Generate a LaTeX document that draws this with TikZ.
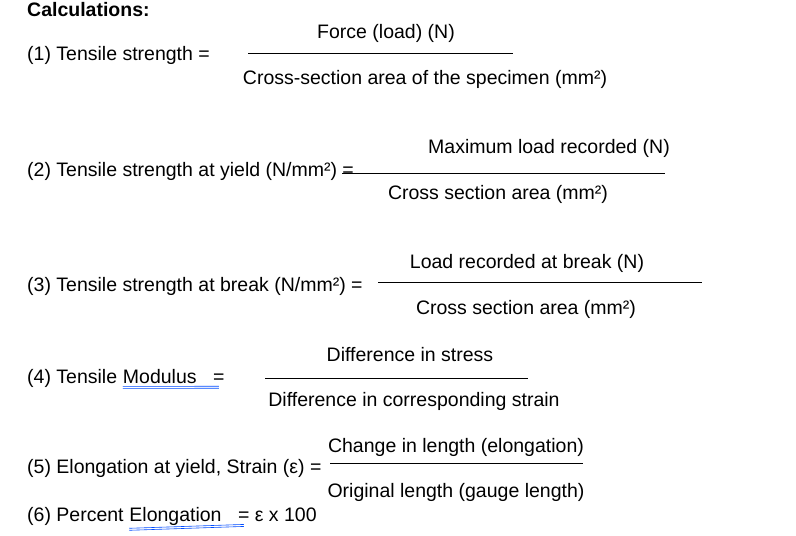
\documentclass[tikz,border=0pt]{standalone}
\usepackage{fontspec}
\setmainfont{Liberation Sans}
\begin{document}
\begin{tikzpicture}[x=1pt,y=-1pt,
  t/.style={anchor=west,inner sep=0pt,font=\fontsize{19.5}{23}\selectfont},
  tb/.style={anchor=base west,inner sep=0pt,font=\fontsize{19.5}{23}\selectfont},
  c/.style={anchor=center,inner sep=0pt,font=\fontsize{19.5}{23}\selectfont},
  fl/.style={line width=0.7pt},
  ul/.style={draw=blue!70!cyan,line width=0.6pt}]
\useasboundingbox[fill=white] (0,0) rectangle (796,536);
\node[t,font=\fontsize{19.5}{23}\selectfont\bfseries] (h) at (27,10) {Calculations:};
% (1)
\node[t] (l1) at (27,55) {(1) Tensile strength =};
\node[c] (n1) at (386,33) {Force (load) (N)};
\node[c] (d1) at (425,79) {Cross-section area of the specimen (mm²)};
\coordinate (a1) at (248,53); \coordinate (b1) at (513,53);
\draw[fl] (a1) -- (b1);
% (2)
\node[t] (l2) at (27,171) {(2) Tensile strength at yield (N/mm²) =};
\node[c] (n2) at (549,148) {Maximum load recorded (N)};
\node[c] (d2) at (498,194) {Cross section area (mm²)};
\coordinate (a2) at (342,173); \coordinate (b2) at (665,173);
\draw[fl] (a2) -- (b2);
% (3)
\node[t] (l3) at (27,286) {(3) Tensile strength at break (N/mm²) =};
\node[c] (n3) at (527,263) {Load recorded at break (N)};
\node[c] (d3) at (526,309) {Cross section area (mm²)};
\coordinate (a3) at (378,282); \coordinate (b3) at (702,282);
\draw[fl] (a3) -- (b3);
% (4)
\node[t] (l4) at (27,378) {(4) Tensile};
\node[tb] (m4) at ([xshift=5.4pt]l4.base east) {Modulus};
\node[tb] (e4) at ([xshift=16pt]m4.base east) {=};
\node[c] (n4) at (410,355) {Difference in stress};
\node[c] (d4) at (414,401) {Difference in corresponding strain};
\coordinate (a4) at (265,378); \coordinate (b4) at (528,378);
\draw[fl] (a4) -- (b4);
\draw[ul] ([yshift=-3pt]m4.south west) -- ([xshift=6pt,yshift=-3pt]e4.south west);
\draw[ul] ([yshift=-5pt]m4.south west) -- ([xshift=6pt,yshift=-5pt]e4.south west);
% (5)
\node[t] (l5) at (27,468) {(5) Elongation at yield, Strain (ε) =};
\node[c] (n5) at (456,447) {Change in length (elongation)};
\node[c] (d5) at (456,492) {Original length (gauge length)};
\coordinate (a5) at (330,463); \coordinate (b5) at (583,463);
\draw[fl] (a5) -- (b5);
% (6)
\node[t] (l6) at (27,516) {(6) Percent};
\node[tb] (m6) at ([xshift=5.4pt]l6.base east) {Elongation};
\node[tb] (e6) at ([xshift=16pt]m6.base east) {= ε x 100};
\draw[ul] ([yshift=-3pt]m6.south west) -- ([xshift=6pt,yshift=-3pt]e6.south west);
\draw[ul] ([yshift=-5pt]m6.south west) -- ([xshift=6pt,yshift=-5pt]e6.south west);
\end{tikzpicture}
\end{document}
